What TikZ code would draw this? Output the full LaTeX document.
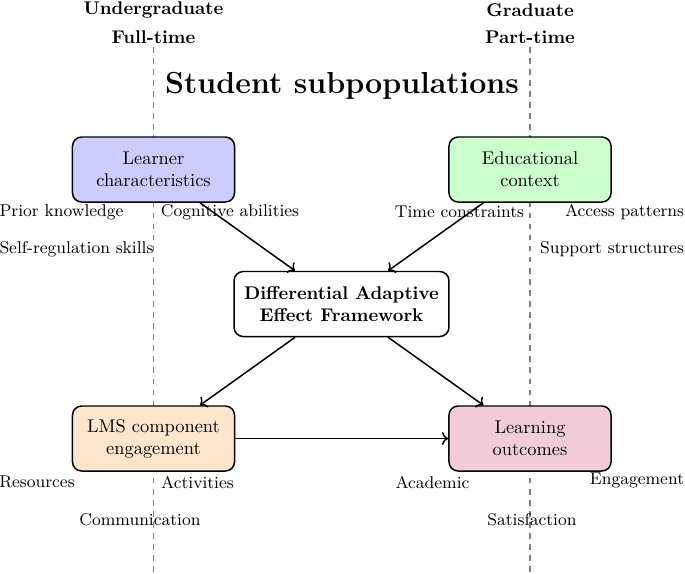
\documentclass[tikz,border=0pt]{standalone}
\usetikzlibrary{arrows.meta}
\begin{document}
\begin{tikzpicture}[x=0.543pt,y=-0.543pt,
  box/.style={draw, thick, rounded corners=5pt, minimum width=88pt, minimum height=35.3pt, align=center, font=\fontsize{10}{12}\selectfont},
  lbl/.style={font=\fontsize{9.25}{11}\selectfont, inner sep=0pt},
  pop/.style={font=\bfseries, inner sep=0pt},
  divider/.style={draw=gray, dashed, line width=0.6pt},
  flow/.style={->, thick}]
\useasboundingbox (0,0) rectangle (685,573);
% dividers
\coordinate (ugtop) at (153.5,47);
\coordinate (ugbot) at (153.5,573);
\coordinate (grtop) at (530,47);
\coordinate (grbot) at (530,573);
\draw[divider] (ugtop) -- (ugbot);
\draw[divider] (grtop) -- (grbot);
% subpopulation labels
\node[pop] (ug) at (153.5,10) {Undergraduate};
\node[pop] (ft) at (153.5,37) {Full-time};
\node[pop] (gr) at (530,10) {Graduate};
\node[pop] (pt) at (530,37) {Part-time};
\node[inner sep=0pt, font=\fontsize{16.5}{19.5}\selectfont\bfseries] (title) at (342,86) {Student subpopulations};
% boxes
\node[box, fill=blue!20] (learner) at (153.5,169.5) {Learner\\characteristics};
\node[box, fill=green!20] (context) at (530,169.5) {Educational\\context};
\node[box, fill=white, minimum width=116.7pt, font=\fontsize{10}{12}\selectfont\bfseries] (diff) at (341.5,304) {Differential Adaptive\\Effect Framework};
\node[box, fill=orange!20] (lms) at (153.5,438.5) {LMS component\\engagement};
\node[box, fill=purple!20] (outcomes) at (530,438.5) {Learning\\outcomes};
% arrows
\draw[flow] (learner) -- (diff);
\draw[flow] (context) -- (diff);
\draw[flow] (diff) -- (lms);
\draw[flow] (diff) -- (outcomes);
\draw[flow] (lms) -- (outcomes);
% labels
\node[lbl] (prior) at (61.5,212) {Prior knowledge};
\node[lbl] (cog) at (230,212) {Cognitive abilities};
\node[lbl] (selfreg) at (76.5,249) {Self-regulation skills};
\node[lbl] (time) at (459.5,212) {Time constraints};
\node[lbl] (access) at (624.5,212) {Access patterns};
\node[lbl] (support) at (612,249) {Support structures};
\node[lbl] (res) at (37,482) {Resources};
\node[lbl] (act) at (197.5,482) {Activities};
\node[lbl] (comm) at (140,520) {Communication};
\node[lbl] (acad) at (432.5,482) {Academic};
\node[lbl] (eng) at (637,480) {Engagement};
\node[lbl] (sat) at (532,520) {Satisfaction};
\end{tikzpicture}
\end{document}
